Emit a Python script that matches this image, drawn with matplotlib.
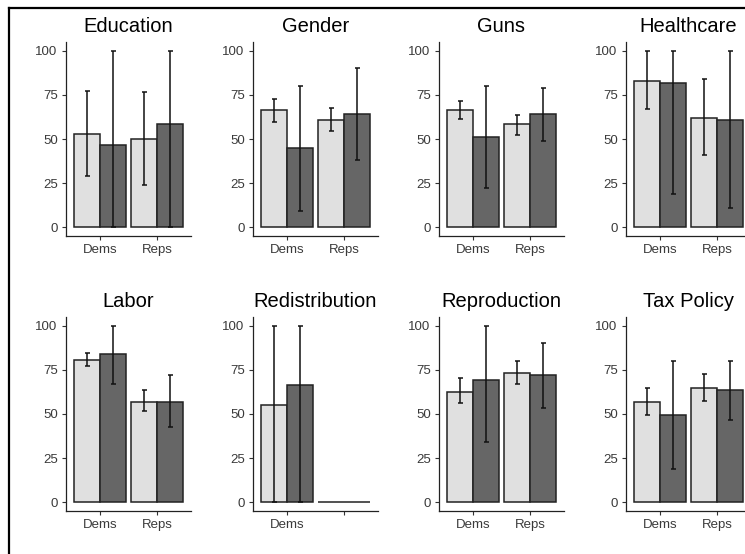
import matplotlib
matplotlib.use("Agg")
import matplotlib.pyplot as plt
from matplotlib.lines import Line2D

plt.rcParams['font.family'] = ['Liberation Sans', 'DejaVu Sans']

topics = ['Education', 'Gender', 'Guns', 'Healthcare',
          'Labor', 'Redistribution', 'Reproduction', 'Tax Policy']
parties = ['Dems', 'Reps']

# light group (mean, low, high) for Dems, Reps
light_mean = [[53, 50], [66.5, 61], [66.5, 58.5], [83, 62],
              [80.5, 57], [55, 0], [62.5, 73.5], [57, 65]]
light_lo = [[29, 24], [59.5, 54.5], [61.5, 52.5], [67, 41],
            [77, 51.5], [0, None], [56, 67], [49.5, 57.5]]
light_hi = [[77, 76.5], [72.5, 67.5], [71.5, 63.5], [100, 84],
            [84.5, 63.5], [100, None], [70.5, 80], [64.5, 72.5]]

# dark group
dark_mean = [[46.5, 58.5], [45, 64], [51, 64], [82, 61],
             [84, 57], [66.5, 0], [69.5, 72], [49.5, 63.5]]
dark_lo = [[0, 0], [9, 38], [22, 49], [19, 11],
           [67, 42.5], [0, None], [34, 53.5], [19, 46.5]]
dark_hi = [[100, 100], [80, 90], [80, 79], [100, 100],
           [100, 72], [100, None], [100, 90], [80, 80]]

tick_labels = [['Dems', 'Reps']] * 5 + [['Dems', '']] + [['Dems', 'Reps']] * 2

light_col = '#e0e0e0'
dark_col = '#666666'
W, H = 745, 554

fig = plt.figure(figsize=(W / 100, H / 100), dpi=100)

lefts = [66, 253, 439, 626]
tops = [42, 317]
aw, ah = 125, 194

for i, topic in enumerate(topics):
    r, c = divmod(i, 4)
    ax = fig.add_axes([lefts[c] / W, 1 - (tops[r] + ah) / H, aw / W, ah / H])
    xs = [1, 2]
    for grp, (means, lo, hi, col, off) in enumerate([
            (light_mean[i], light_lo[i], light_hi[i], light_col, -0.225),
            (dark_mean[i], dark_lo[i], dark_hi[i], dark_col, 0.225)]):
        pos = [x + off for x in xs]
        ax.bar(pos, means, width=0.46, color=col, edgecolor='#222222',
               linewidth=1.1, zorder=2)
        for p, m, l, h in zip(pos, means, lo, hi):
            if l is None:
                continue
            ax.errorbar(p, m, yerr=[[m - l], [h - m]], fmt='none',
                        ecolor='#111111', elinewidth=1.1, capsize=1.8,
                        capthick=1.1, zorder=3)
    ax.set_xlim(0.4, 2.6)
    ax.set_ylim(-5, 105)
    ax.set_xticks(xs)
    ax.set_xticklabels(tick_labels[i])
    ax.set_yticks([0, 25, 50, 75, 100])
    ax.tick_params(axis='both', colors='#333333', labelcolor='#3a3a3a',
                   labelsize=9.5, length=3, width=0.8, pad=3)
    for s in ['top', 'right']:
        ax.spines[s].set_visible(False)
    for s in ['left', 'bottom']:
        ax.spines[s].set_linewidth(0.9)
        ax.spines[s].set_color('#222222')
    ax.set_title(topic, fontsize=14.5, pad=7, color='black')

# frame lines visible at left and top of the cropped image
fig.add_artist(Line2D([9 / W, 9 / W], [0, 1 - 8 / H], transform=fig.transFigure,
                      color='black', linewidth=1.6))
fig.add_artist(Line2D([9 / W, 1], [1 - 8 / H, 1 - 8 / H], transform=fig.transFigure,
                      color='black', linewidth=1.6))

fig.savefig('out.png', dpi=100)
